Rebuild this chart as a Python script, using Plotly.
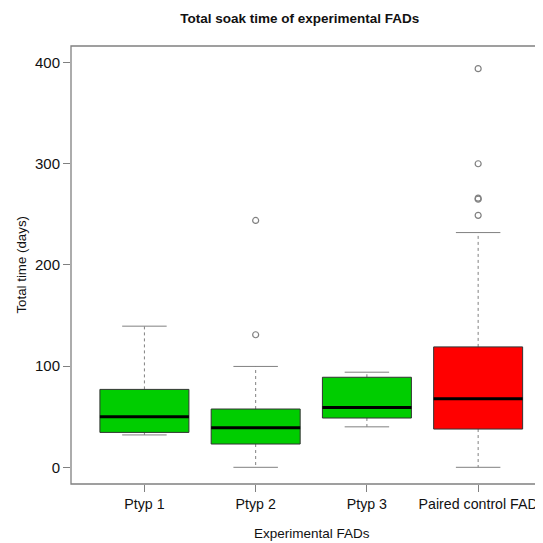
import plotly.graph_objects as go

categories = ["Ptyp 1", "Ptyp 2", "Ptyp 3", "Paired control FAD"]
lower_whisker = [32, 0, 40, 0]
q1 = [34.5, 23, 48.7, 37.8]
median = [50, 39, 59, 67.8]
q3 = [77, 57.6, 89, 119]
upper_whisker = [139.5, 99.7, 94, 232]
outliers = [[], [131, 244], [], [249, 265, 266, 300, 394]]
fill_colors = ["#00CD00", "#00CD00", "#00CD00", "#FF0000"]

y_ticks = [0, 100, 200, 300, 400]

FONT = "Liberation Sans, Arial, sans-serif"
half_box = 0.4
half_cap = 0.2
PAGE_OFFSET = 8  # default body margin of the html page
W = 543 - PAGE_OFFSET
H = 543 - PAGE_OFFSET

fig = go.Figure()
for i, cat in enumerate(categories):
    x = i + 1
    # whiskers (dashed)
    fig.add_trace(go.Scatter(
        x=[x, x, None, x, x],
        y=[q3[i], upper_whisker[i], None, q1[i], lower_whisker[i]],
        mode="lines", line=dict(color="#808080", width=1, dash="3px,3px"),
        hoverinfo="skip", showlegend=False))
    # caps
    fig.add_trace(go.Scatter(
        x=[x - half_cap, x + half_cap, None, x - half_cap, x + half_cap],
        y=[upper_whisker[i], upper_whisker[i], None, lower_whisker[i], lower_whisker[i]],
        mode="lines", line=dict(color="#808080", width=1),
        hoverinfo="skip", showlegend=False))
    # box
    fig.add_trace(go.Scatter(
        x=[x - half_box, x + half_box, x + half_box, x - half_box, x - half_box],
        y=[q1[i], q1[i], q3[i], q3[i], q1[i]],
        mode="lines", fill="toself", fillcolor=fill_colors[i],
        line=dict(color="#333333", width=1),
        hoverinfo="skip", showlegend=False))
    # median
    fig.add_trace(go.Scatter(
        x=[x - half_box, x + half_box], y=[median[i], median[i]],
        mode="lines", line=dict(color="#000000", width=3),
        hoverinfo="skip", showlegend=False))
    # outliers
    if outliers[i]:
        fig.add_trace(go.Scatter(
            x=[x] * len(outliers[i]), y=outliers[i], mode="markers",
            marker=dict(symbol="circle-open", size=6, color="#808080",
                        line=dict(width=1.2, color="#808080")),
            hoverinfo="skip", showlegend=False))

fig.update_layout(
    width=W, height=H,
    margin=dict(l=71 - PAGE_OFFSET, r=0, t=46 - PAGE_OFFSET, b=59),
    paper_bgcolor="white", plot_bgcolor="white",
    font=dict(family=FONT, color="#111111"),
    title=dict(text="<b>Total soak time of experimental FADs</b>",
               font=dict(size=13.5, family=FONT, color="#111111"),
               x=(299.7 - PAGE_OFFSET) / W, xref="container", xanchor="center",
               y=1 - (18.5 - PAGE_OFFSET) / H, yref="container", yanchor="middle"),
    xaxis=dict(range=[0.34, 4.583], tickmode="array",
               tickvals=[1, 2, 3, 4], ticktext=categories,
               ticks="outside", ticklen=7, tickcolor="#808080", tickwidth=1,
               showgrid=False, zeroline=False, showline=False,
               tickfont=dict(size=14.2, family=FONT, color="#111111")),
    yaxis=dict(range=[-16.5, 416.4], tickmode="array", tickvals=y_ticks,
               ticktext=[str(v) for v in y_ticks],
               ticks="outside", ticklen=7, tickcolor="#808080", tickwidth=1,
               showgrid=False, zeroline=False, showline=False,
               tickfont=dict(size=15, family=FONT, color="#111111")),
    shapes=[dict(type="rect", xref="paper", yref="paper",
                 x0=0, x1=1.05, y0=0, y1=1,
                 line=dict(color="#808080", width=1.3))],
    annotations=[
        dict(text="Total time (days)", xref="paper", yref="paper",
             x=(22 - 71) / 472, y=0.501, textangle=-90,
             xanchor="center", yanchor="middle", showarrow=False,
             font=dict(size=13.3, family=FONT, color="#111111")),
        dict(text="Experimental FADs", xref="paper", yref="paper",
             x=(312 - 71) / 472, y=(484 - 533) / 438,
             xanchor="center", yanchor="middle", showarrow=False,
             font=dict(size=13.5, family=FONT, color="#111111")),
    ],
)

fig.write_html("out.html")
